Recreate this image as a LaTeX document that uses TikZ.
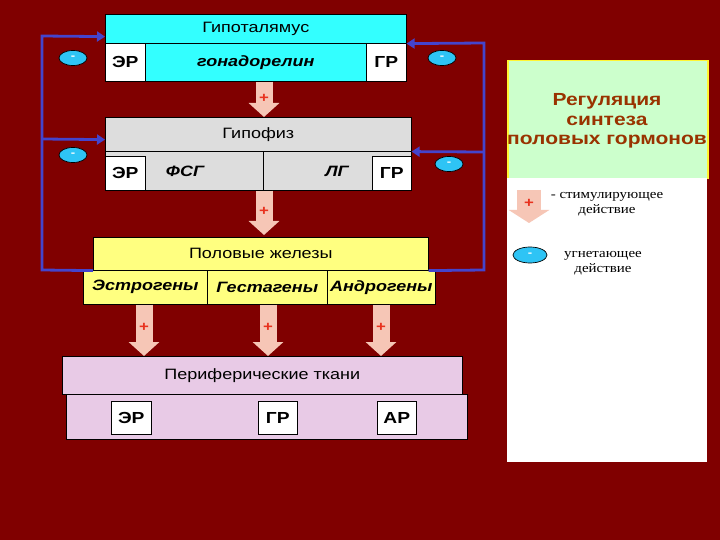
\documentclass[tikz,border=0pt]{standalone}
\usepackage{fontspec}
\setmainfont{Liberation Sans}[FakeStretch=1.2]
\newfontfamily\legendfont{Liberation Serif}[FakeStretch=1.15]
\usetikzlibrary{arrows.meta,shapes.geometric}
\definecolor{bg}{HTML}{800000}
\definecolor{cyanbox}{HTML}{33FFFF}
\definecolor{graybox}{HTML}{DDDDDD}
\definecolor{yellowbox}{HTML}{FFFF80}
\definecolor{pinkbox}{HTML}{E8CAE6}
\definecolor{arrowfill}{HTML}{F6C6B6}
\definecolor{fbblue}{HTML}{4444CC}
\definecolor{minusfill}{HTML}{2EC4F5}
\definecolor{titlegreen}{HTML}{CCFFCC}
\definecolor{titlebrown}{HTML}{993300}
\definecolor{plusred}{HTML}{E8321E}
\tikzset{
  box/.style={draw=black, line width=0.6pt, inner sep=0pt, anchor=north west},
  wbox/.style={box, fill=white, font=\fontsize{16}{18}\selectfont\bfseries},
  lbl/.style={inner sep=0pt, font=\fontsize{15}{17}\selectfont},
  bilbl/.style={inner sep=0pt, font=\fontsize{15}{17}\selectfont\bfseries\itshape},
  blockarrow/.style={draw=arrowfill, line width=17pt,
    -{Triangle[width=30pt,length=14pt,fill=arrowfill]}},
  plus/.style={text=plusred, font=\fontsize{14}{14}\selectfont\bfseries, inner sep=0pt},
  fb/.style={draw=fbblue, line width=2.8pt},
  fbarrow/.style={fb, -{Triangle[width=10pt,length=8pt]}},
  minus/.style={ellipse, draw=black, line width=0.7pt, fill=minusfill,
    minimum width=28pt, minimum height=15pt, inner sep=0pt,
    text=white, font=\fontsize{11}{11}\selectfont\bfseries},
}
\begin{document}
\begin{tikzpicture}[x=1pt,y=-1pt]
\fill[bg] (0,0) rectangle (720,540);
\useasboundingbox (0,0) rectangle (720,540);

% Hypothalamus
\node[box, fill=cyanbox, minimum width=301pt, minimum height=29pt, lbl] (hypTop) at (105,14) {Гипоталямус};
\node[box, fill=cyanbox, minimum width=301pt, minimum height=38pt, bilbl] (hypBot) at (105,43) {гонадорелин};
\node[wbox, minimum width=40pt, minimum height=38pt] (hypER) at (105,43) {ЭР};
\node[wbox, minimum width=40pt, minimum height=38pt] (hypGR) at (366,43) {ГР};

% Pituitary
\node[box, fill=graybox, minimum width=306pt, minimum height=34pt, lbl] (pitTop) at (105,117) {Гипофиз};
\node[box, fill=graybox, minimum width=158pt, minimum height=39pt] (pitFSH) at (105,151) {};
\node[box, fill=graybox, minimum width=148pt, minimum height=39pt] (pitLH) at (263,151) {};
\node[bilbl] (fshT) at (185,171) {ФСГ};
\node[bilbl] (lhT) at (337,171) {ЛГ};
\node[wbox, minimum width=40pt, minimum height=34pt] (pitER) at (105,156) {ЭР};
\node[wbox, minimum width=39pt, minimum height=34pt] (pitGR) at (372,156) {ГР};

% Gonads
\node[box, fill=yellowbox, minimum width=335pt, minimum height=33pt, lbl] (gonTop) at (93,237) {Половые железы};
\node[box, fill=yellowbox, minimum width=124pt, minimum height=34pt, bilbl] (gonE) at (83,270) {Эстрогены};
\node[box, fill=yellowbox, minimum width=120pt, minimum height=34pt, bilbl] (gonG) at (207,270) {Гестагены};
\node[box, fill=yellowbox, minimum width=108pt, minimum height=34pt, bilbl] (gonA) at (327,270) {Андрогены};

% Peripheral tissues
\node[box, fill=pinkbox, minimum width=400pt, minimum height=38pt, lbl] (perTop) at (62,356) {Периферические ткани};
\node[box, fill=pinkbox, minimum width=401pt, minimum height=45pt] (perBot) at (66,394) {};
\node[wbox, minimum width=40pt, minimum height=33pt] (perER) at (111,401) {ЭР};
\node[wbox, minimum width=39pt, minimum height=33pt] (perGR) at (258,401) {ГР};
\node[wbox, minimum width=39pt, minimum height=33pt] (perAR) at (377,401) {АР};

% Title and legend panel
\node[box, draw=yellow!80, line width=1.5pt, fill=titlegreen, minimum width=200pt, minimum height=118pt] (title) at (507,60) {};
\node[inner sep=0pt, align=center, text=titlebrown, font=\fontsize{17.5}{19.5}\selectfont\bfseries] (titleT) at (607,121) {Регуляция\\синтеза\\половых гормонов};
\node[box, draw=none, fill=white, minimum width=200pt, minimum height=284pt] (legend) at (507,178) {};

% Block arrows (stimulating)
\coordinate (axA) at (264,0);
\draw[blockarrow] (hypBot.south -| axA) -- (pitTop.north -| axA) node[plus, pos=0.48] (p1) {+};
\draw[blockarrow] (pitFSH.south -| axA) -- ([yshift=2pt]gonTop.north -| axA) node[plus, pos=0.46] (p2) {+};
\coordinate (axE) at (144,0);
\coordinate (axG) at (268,0);
\coordinate (axAn) at (381,0);
\draw[blockarrow] (gonE.south -| axE) -- (perTop.north -| axE) node[plus, pos=0.45] (p3) {+};
\draw[blockarrow] (gonG.south -| axG) -- (perTop.north -| axG) node[plus, pos=0.45] (p4) {+};
\draw[blockarrow] (gonA.south -| axAn) -- (perTop.north -| axAn) node[plus, pos=0.45] (p5) {+};

% Feedback lines (inhibiting)
\coordinate (LB) at (42,270);
\coordinate (LT) at (42,36);
\coordinate (LM) at (42,139);
\draw[fbarrow] (gonTop.south west) -- (LB) -- (LT) -- ([yshift=7pt]hypTop.south west);
\draw[fbarrow] (LM) -- ([yshift=12pt]pitTop.south west);
\coordinate (RB) at (484,270);
\coordinate (RT) at (484,43);
\coordinate (RM) at (484,152);
\draw[fbarrow] (gonTop.south east) -- (RB) -- (RT) -- (hypTop.south east);
\draw[fbarrow] (RM) -- (pitTop.south east);

\node[minus] (mL1) at (73,58) {-};
\node[minus] (mL2) at (73,155) {-};
\node[minus] (mR1) at (442,58) {-};
\node[minus] (mR2) at (449,164) {-};

% Legend
\coordinate (lgA) at (529,190);
\coordinate (lgB) at (529,223);
\draw[draw=arrowfill, line width=24pt, -{Triangle[width=40pt,length=13pt,fill=arrowfill]}] (lgA) -- (lgB) node[plus, pos=0.42] (lgP) {+};
\node[inner sep=0pt, align=center, font=\legendfont\fontsize{13}{15}\selectfont] (lgT1) at (607,204) {- стимулирующее\\действие};
\node[minus, minimum width=34pt, minimum height=16pt] (lgM) at (530,255) {-};
\node[inner sep=0pt, align=center, font=\legendfont\fontsize{13}{15}\selectfont] (lgT2) at (603,263) {угнетающее\\действие};
\end{tikzpicture}
\end{document}
